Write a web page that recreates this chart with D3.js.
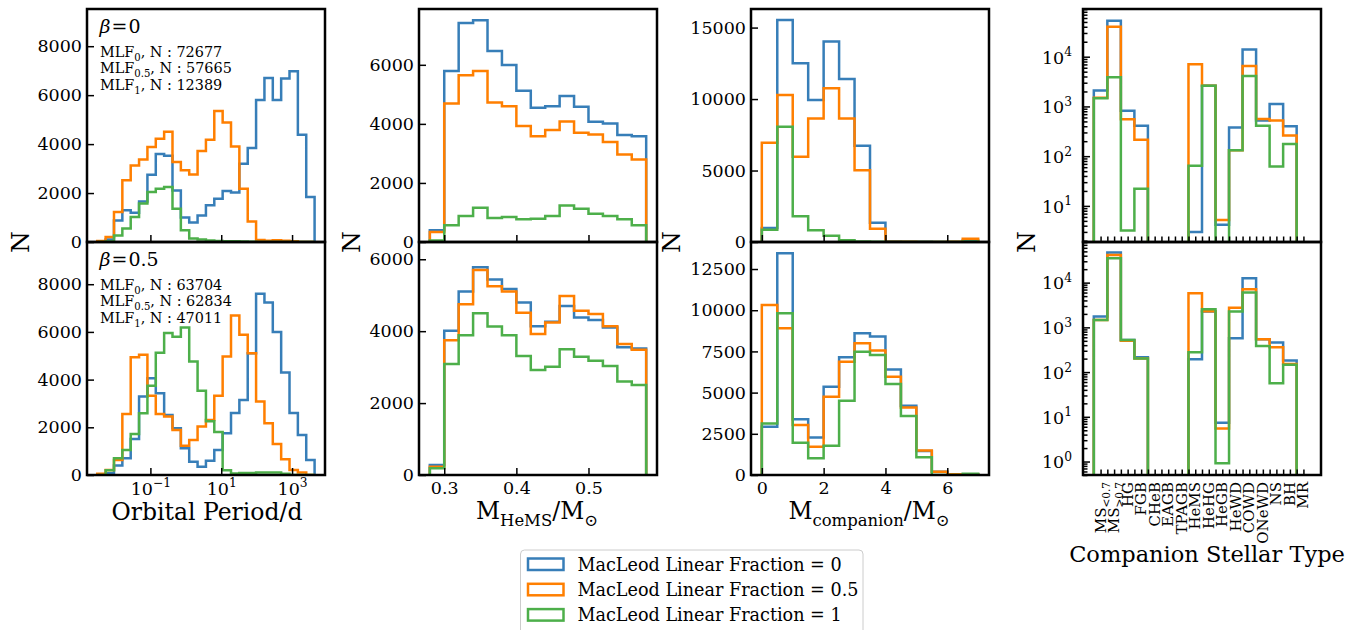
<!DOCTYPE html>
<html><head><meta charset="utf-8">
<script src="https://cdn.jsdelivr.net/npm/d3@7"></script>
<style>
body{margin:0;background:#fff;}
svg text, svg tspan{font-family:"DejaVu Serif","Liberation Serif",serif !important;fill:#000;}
</style></head>
<body><svg id="chart" width="1360" height="630" font-family="DejaVu Serif"></svg>
<script>
// ---------------- DATA ----------------
const seriesNames = ["MacLeod Linear Fraction = 0", "MacLeod Linear Fraction = 0.5", "MacLeod Linear Fraction = 1"];
const seriesColors = ["#377eb8", "#ff7f00", "#4daf4a"];

// Orbital period histogram (bin edges in log10(P/d))
const periodLogEdges = [-2.5, -2.264, -2.028, -1.792, -1.556, -1.32, -1.084, -0.848, -0.612, -0.376, -0.14, 0.096, 0.332, 0.568, 0.804, 1.04, 1.276, 1.512, 1.748, 1.984, 2.22, 2.456, 2.692, 2.928, 3.164, 3.4, 3.636];
const periodB0_MLF0   = [30, 100, 880, 1300, 1200, 1650, 2750, 3600, 3520, 2100, 1000, 800, 1080, 1500, 1770, 2080, 2020, 3200, 3840, 5800, 6700, 5800, 6680, 6980, 4380, 1840];
const periodB0_MLF05  = [40, 200, 1230, 2520, 3130, 3370, 3880, 4220, 4500, 3270, 2930, 2760, 3720, 4180, 5350, 4880, 3900, 2180, 840, 80, 50, 70, 50, 30, 0, 0];
const periodB0_MLF1   = [0, 20, 270, 550, 1020, 1570, 2040, 2180, 2250, 1360, 480, 140, 100, 60, 40, 30, 30, 20, 10, 0, 0, 0, 0, 0, 0, 0];
const periodB05_MLF0  = [0, 70, 400, 700, 1510, 3290, 4060, 3430, 2520, 1960, 1120, 560, 350, 600, 1050, 1750, 2600, 3150, 5100, 7600, 7230, 6000, 4300, 2600, 1680, 630];
const periodB05_MLF05 = [50, 210, 630, 2560, 4940, 5040, 3320, 2560, 2450, 1890, 1230, 1470, 2030, 2310, 3320, 4970, 6690, 5880, 5110, 3080, 2170, 1300, 660, 210, 100, 0];
const periodB05_MLF1  = [0, 200, 700, 1050, 1720, 2590, 3740, 5130, 5950, 5800, 6180, 4760, 3530, 2250, 1800, 200, 60, 80, 80, 100, 100, 100, 50, 0, 0, 0];
const periodTicks = [0.1, 10, 1000];
const periodTickExp = ["\u22121", "1", "3"];

// HeMS mass histogram
const hemsEdges = [0.28, 0.30, 0.32, 0.34, 0.36, 0.38, 0.40, 0.42, 0.44, 0.46, 0.48, 0.50, 0.52, 0.54, 0.56, 0.58];
const hemsB0_MLF0   = [400, 5790, 7420, 7510, 6470, 5990, 5120, 4550, 4600, 4940, 4580, 4070, 4010, 3620, 3580];
const hemsB0_MLF05  = [340, 4690, 5650, 5790, 4720, 4600, 3930, 3580, 3790, 4080, 3700, 3640, 3390, 2960, 2790];
const hemsB0_MLF1   = [50, 565, 880, 1160, 810, 850, 770, 790, 880, 1240, 1130, 960, 880, 770, 565];
const hemsB05_MLF0  = [280, 4010, 5100, 5780, 5440, 5170, 4800, 4140, 4260, 4700, 4380, 4310, 4100, 3550, 3520];
const hemsB05_MLF05 = [230, 3750, 4750, 5700, 5250, 5100, 4510, 3920, 4240, 4980, 4570, 4480, 4140, 3640, 3480];
const hemsB05_MLF1  = [185, 3090, 3890, 4500, 4130, 3890, 3310, 2920, 3010, 3500, 3290, 3180, 3030, 2600, 2500];
const hemsTicks = [0.3, 0.4, 0.5];

// Companion mass histogram
const compEdges = [0, 0.5, 1, 1.5, 2, 2.5, 3, 3.5, 4, 4.5, 5, 5.5, 6, 6.5, 7];
const compB0_MLF0   = [980, 15530, 12500, 9930, 14020, 11400, 6730, 1350, 30, 10, 10, 0, 5, 100];
const compB0_MLF05  = [6940, 10280, 5960, 8640, 10750, 8640, 5020, 930, 20, 10, 5, 0, 10, 230];
const compB0_MLF1   = [860, 8060, 1800, 820, 440, 120, 40, 10, 0, 0, 0, 0, 0, 30];
const compB05_MLF0  = [2930, 13450, 3380, 2270, 5360, 7140, 8600, 8400, 6410, 4210, 1460, 200, 50, 50];
const compB05_MLF05 = [10320, 8900, 3030, 1720, 4750, 6880, 7990, 7550, 5970, 4100, 1480, 200, 50, 50];
const compB05_MLF1  = [3130, 9810, 1960, 1010, 1780, 4510, 7480, 7280, 5520, 3580, 1070, 0, 0, 80];
const compTicks = [0, 2, 4, 6];

// Companion stellar type histogram
const stypeNames = ["MS", "MS", "HG", "FGB", "CHeB", "EAGB", "TPAGB", "HeMS", "HeHG", "HeGB", "HeWD", "COWD", "ONeWD", "NS", "BH", "MR"];
const stypeSubs  = ["<0.7", ">0.7", "", "", "", "", "", "", "", "", "", "", "", "", "", ""];
const stypeB0_MLF0   = [2080, 52600, 815, 408, 0, 0, 0, 3, 2600, 4.2, 378, 14000, 520, 1125, 400, 0];
const stypeB0_MLF05  = [1500, 39900, 555, 214, 0, 0, 0, 7020, 2600, 5.2, 131, 6500, 560, 520, 260, 0];
const stypeB0_MLF1   = [1460, 3850, 3.2, 22, 0, 0, 0, 64, 2600, 0, 131, 4100, 408, 62, 175, 0];
const stypeB05_MLF0  = [1740, 46900, 524, 214, 0, 0, 0, 194, 2250, 7.4, 570, 12500, 540, 456, 181, 0];
const stypeB05_MLF05 = [1470, 41500, 500, 200, 0, 0, 0, 5780, 2300, 5.5, 2760, 7100, 540, 360, 152, 0];
const stypeB05_MLF1  = [1470, 35000, 524, 200, 0, 0, 0, 277, 2540, 0.92, 2250, 5980, 385, 56, 145, 0];

// Annotations
const betaLabels = ["0", "0.5"];
const mlfSubs = ["0", "0.5", "1"];
const countsB0  = [72677, 57665, 12389];
const countsB05 = [63704, 62834, 47011];

// ---------------- LAYOUT ----------------
const FONT = "'DejaVu Serif', 'Liberation Serif', serif";
const svg = d3.select("#chart");
const PW = 238, PH = 233;
const COL_X = [87, 419, 751, 1083];
const ROW_Y = [9, 242];
const TICK_FS = 17.5;
const LABEL_FS = 23.5;
const MAJ = 7, MIN = 4.5;
let clipCounter = 0;

function stepPoints(edges, vals, floorVal) {
  const pts = [[edges[0], floorVal]];
  vals.forEach((v, i) => {
    const vv = Math.max(v, floorVal);
    pts.push([edges[i], vv]);
    pts.push([edges[i + 1], vv]);
  });
  pts.push([edges[edges.length - 1], floorVal]);
  return pts;
}

function rich(textSel, parts, fs) {
  let shift = 0;
  parts.forEach(p => {
    const ts = textSel.append("tspan").text(p.t);
    let target = 0;
    if (p.sub) { target = 0.28 * fs; ts.attr("font-size", fs * 0.7); }
    else if (p.sup) { target = -0.42 * fs; ts.attr("font-size", fs * 0.7); }
    else ts.attr("font-size", fs);
    if (p.italic) ts.attr("font-style", "italic");
    if (p.dx) ts.attr("dx", p.dx);
    if (target - shift !== 0) ts.attr("dy", target - shift);
    shift = target;
  });
}

function panel(col, row, xBase, yBase, edges, seriesList, floorVal) {
  const x0 = COL_X[col], y0 = ROW_Y[row];
  const g = svg.append("g").attr("transform", `translate(${x0},${y0})`);
  const xs = xBase.copy().range([0, PW]);
  const ys = yBase.copy().range([PH, 0]);
  const id = "clip" + (clipCounter++);
  g.append("clipPath").attr("id", id).append("rect").attr("width", PW).attr("height", PH);
  const plot = g.append("g").attr("clip-path", `url(#${id})`);
  const line = d3.line().x(d => xs(d[0])).y(d => ys(d[1]));
  seriesList.forEach((vals, i) => {
    plot.append("path").attr("d", line(stepPoints(edges, vals, floorVal)))
      .attr("fill", "none").attr("stroke", seriesColors[i])
      .attr("stroke-width", 2.5).attr("stroke-linejoin", "miter");
  });
  return { g, xs, ys };
}

function styleAxis(a) {
  a.select(".domain").remove();
  a.attr("font-size", TICK_FS).attr("font-family", FONT);
  a.selectAll(".tick line").attr("stroke", "#000").attr("stroke-width", 1.5);
  a.selectAll(".tick text").attr("fill", "#000");
  return a;
}

function yAxisLinear(p, ticks) {
  const a = p.g.append("g").call(d3.axisLeft(p.ys).tickValues(ticks).tickSize(-MAJ).tickPadding(5).tickFormat(d3.format("d")));
  return styleAxis(a);
}

function xAxisTicks(p, ticks, fmt, showLabels, len) {
  const a = p.g.append("g").attr("transform", `translate(0,${PH})`)
    .call(d3.axisBottom(p.xs).tickValues(ticks).tickSize(-(len || MAJ)).tickPadding(6.5).tickFormat(showLabels ? fmt : () => ""));
  return styleAxis(a);
}

function frame(p) {
  p.g.append("rect").attr("width", PW).attr("height", PH)
    .attr("fill", "none").attr("stroke", "#000").attr("stroke-width", 2.5);
}

// ---------- Column 1: Orbital period ----------
const periodX = d3.scaleLog().domain([Math.pow(10, -2.79), Math.pow(10, 3.93)]);
const periodEdges = periodLogEdges.map(e => Math.pow(10, e));
const periodY = [d3.scaleLinear().domain([0, 9520]), d3.scaleLinear().domain([0, 9770])];
const periodData = [[periodB0_MLF0, periodB0_MLF05, periodB0_MLF1], [periodB05_MLF0, periodB05_MLF05, periodB05_MLF1]];
const countData = [countsB0, countsB05];
[0, 1].forEach(r => {
  const p = panel(0, r, periodX, periodY[r], periodEdges, periodData[r], 0);
  yAxisLinear(p, [0, 2000, 4000, 6000, 8000]);
  const ax = xAxisTicks(p, periodTicks, () => "", false);
  if (r === 1) {
    ax.selectAll(".tick").each(function(d, i) {
      const t = d3.select(this).select("text");
      t.attr("dy", null).attr("y", 19.5).text(null);
      rich(t, [{ t: "10" }, { t: periodTickExp[i], sup: true }], TICK_FS);
    });
  }
  frame(p);
  const bt = p.g.append("text").attr("x", 12.5).attr("y", 23.5);
  rich(bt, [{ t: "\u03b2", italic: true }, { t: "=", dx: 1 }, { t: betaLabels[r], dx: 1 }], 19);
  mlfSubs.forEach((s, i) => {
    const tt = p.g.append("text").attr("x", 13).attr("y", 47.5 + i * 16.5);
    rich(tt, [{ t: "MLF" }, { t: s, sub: true }, { t: ", N : " + countData[r][i] }], 14.4);
  });
});

// ---------- Column 2: HeMS mass ----------
const hemsX = d3.scaleLinear().domain([0.265, 0.595]);
const hemsY = [d3.scaleLinear().domain([0, 7890]), d3.scaleLinear().domain([0, 6480])];
const hemsData = [[hemsB0_MLF0, hemsB0_MLF05, hemsB0_MLF1], [hemsB05_MLF0, hemsB05_MLF05, hemsB05_MLF1]];
[0, 1].forEach(r => {
  const p = panel(1, r, hemsX, hemsY[r], hemsEdges, hemsData[r], 0);
  yAxisLinear(p, [0, 2000, 4000, 6000]);
  xAxisTicks(p, hemsTicks, d3.format(".1f"), r === 1);
  frame(p);
});

// ---------- Column 3: Companion mass ----------
const compX = d3.scaleLinear().domain([-0.35, 7.35]);
const compY = [d3.scaleLinear().domain([0, 16300]), d3.scaleLinear().domain([0, 14140])];
const compYTicks = [[0, 5000, 10000, 15000], [0, 2500, 5000, 7500, 10000, 12500]];
const compData = [[compB0_MLF0, compB0_MLF05, compB0_MLF1], [compB05_MLF0, compB05_MLF05, compB05_MLF1]];
[0, 1].forEach(r => {
  const p = panel(2, r, compX, compY[r], compEdges, compData[r], 0);
  yAxisLinear(p, compYTicks[r]);
  xAxisTicks(p, compTicks, d3.format("d"), r === 1);
  frame(p);
});

// ---------- Column 4: Companion stellar type ----------
const stypeIdx = d3.range(stypeNames.length);
const stypeEdges = d3.range(stypeNames.length + 1).map(i => i - 0.5);
const stypeX = d3.scaleLinear().domain([-1.3, 16.3]);
const stypeY = [d3.scaleLog().domain([1.88, 91000]), d3.scaleLog().domain([0.5, 81000])];
const stypeData = [[stypeB0_MLF0, stypeB0_MLF05, stypeB0_MLF1], [stypeB05_MLF0, stypeB05_MLF05, stypeB05_MLF1]];
[0, 1].forEach(r => {
  const p = panel(3, r, stypeX, stypeY[r], stypeEdges, stypeData[r], 1e-3);
  const dom = stypeY[r].domain();
  const majors = [1, 10, 100, 1000, 10000].filter(v => v >= dom[0] && v <= dom[1]);
  const minors = [];
  [0.1, 1, 10, 100, 1000, 10000].forEach(dec => { for (let m = 2; m <= 9; m++) { const v = m * dec; if (v >= dom[0] && v <= dom[1]) minors.push(v); } });
  styleAxis(p.g.append("g").call(d3.axisLeft(p.ys).tickValues(minors).tickSize(-MIN).tickFormat(() => "")));
  const ya = styleAxis(p.g.append("g").call(d3.axisLeft(p.ys).tickValues(majors).tickSize(-MAJ).tickPadding(11).tickFormat(() => "")));
  ya.selectAll(".tick text").each(function(d) {
    const t = d3.select(this).text(null).attr("dy", "0.36em");
    rich(t, [{ t: "10" }, { t: String(Math.round(Math.log10(d))), sup: true }], TICK_FS);
  });
  xAxisTicks(p, d3.range(0, 15.01, 0.5), () => "", false, 5.5);
  if (r === 1) {
    stypeIdx.forEach(i => {
      const t = p.g.append("text")
        .attr("transform", `translate(${p.xs(i) + 5},${PH + 7}) rotate(-90)`)
        .attr("text-anchor", "end");
      const parts = [{ t: stypeNames[i] }];
      if (stypeSubs[i]) parts.push({ t: stypeSubs[i], sub: true });
      rich(t, parts, 15);
    });
  }
  frame(p);
});

// ---------- Axis titles ----------
const yLabX = [28.5, 360, 680, 1035];
yLabX.forEach(x => {
  svg.append("text").attr("transform", `translate(${x},242) rotate(-90)`)
    .attr("text-anchor", "middle").attr("font-size", 25).text("N");
});
svg.append("text").attr("x", 207).attr("y", 520).attr("text-anchor", "middle").attr("font-size", LABEL_FS).text("Orbital Period/d");
const t2 = svg.append("text").attr("x", 537).attr("y", 519).attr("text-anchor", "middle");
rich(t2, [{ t: "M" }, { t: "HeMS", sub: true }, { t: "/M" }, { t: "\u2299", sub: true }], LABEL_FS);
const t3 = svg.append("text").attr("x", 869).attr("y", 519).attr("text-anchor", "middle");
rich(t3, [{ t: "M" }, { t: "companion", sub: true }, { t: "/M" }, { t: "\u2299", sub: true }], LABEL_FS);
svg.append("text").attr("x", 1207).attr("y", 562).attr("text-anchor", "middle").attr("font-size", 22.5).text("Companion Stellar Type");

// ---------- Legend ----------
const lg = svg.append("g").attr("transform", "translate(520.5,550)");
lg.append("rect").attr("width", 342.5).attr("height", 110).attr("rx", 4)
  .attr("fill", "#fff").attr("stroke", "#cccccc").attr("stroke-width", 1);
seriesNames.forEach((name, i) => {
  const yy = 14 + i * 25.3;
  lg.append("rect").attr("x", 7.5).attr("y", yy - 5.5).attr("width", 35.5).attr("height", 11.5)
    .attr("fill", "none").attr("stroke", seriesColors[i]).attr("stroke-width", 2.5);
  lg.append("text").attr("x", 57).attr("y", yy + 6.5).attr("font-size", 17.6).text(name);
});

svg.selectAll("text, tspan").style("font-family", FONT);
</script>
</body></html>
